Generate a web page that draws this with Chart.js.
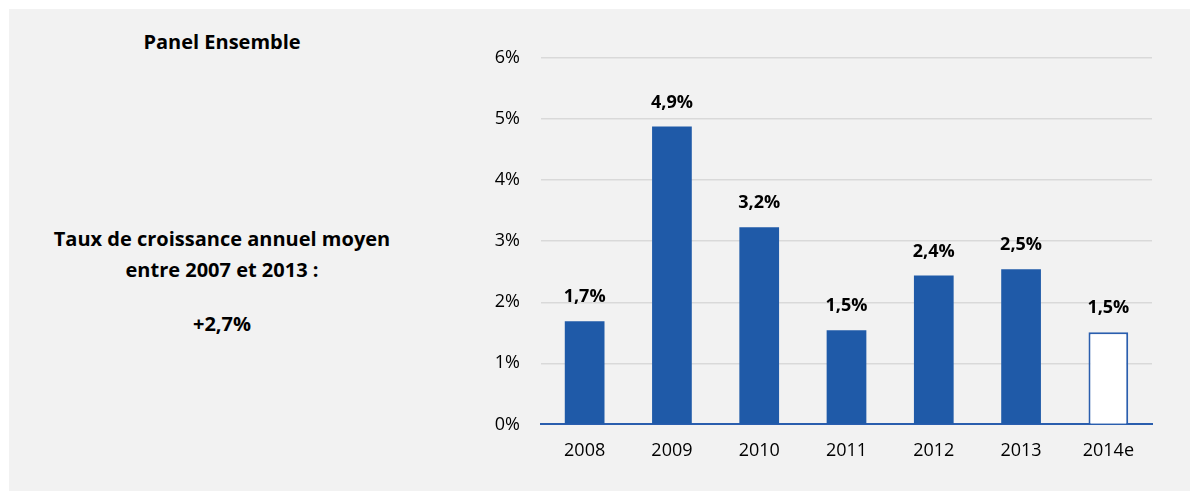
<!DOCTYPE html>
<html lang="fr">
<head>
<meta charset="utf-8">
<title>Panel Ensemble</title>
<script src="https://cdn.jsdelivr.net/npm/chart.js@4.4.1/dist/chart.umd.min.js"></script>
<style>
  html, body { margin: 0; padding: 0; background: #ffffff; }
  body { width: 1190px; height: 491px; position: relative; overflow: hidden; }
  #panel { position: absolute; left: 9px; top: 9px; width: 1181px; height: 482px; background: #f2f2f2; }
  #chart { position: absolute; left: 0; top: 0; }
  .side { position: absolute; left: 22px; width: 400px; text-align: center;
          font-family: "Open Sans", sans-serif; font-weight: bold; color: #000; font-size: 20px; line-height: 31px; }
</style>
</head>
<body>
<div id="panel"></div>
<div class="side" style="top:26px;">Panel Ensemble</div>
<div class="side" style="top:223px;">Taux de croissance annuel moyen<br>entre 2007 et 2013 :</div>
<div class="side" style="top:308px;">+2,7%</div>
<canvas id="chart" width="1190" height="491"></canvas>
<script>
// Annual growth, in percent
const years = ['2008', '2009', '2010', '2011', '2012', '2013', '2014e'];
const growth = [1.69, 4.88, 3.23, 1.54, 2.44, 2.54, 1.51];
const yTicks = [0, 1, 2, 3, 4, 5, 6];

const BLUE = '#1f5aa8';
const fmt = v => v.toFixed(1).replace('.', ',') + '%';

// last year is an estimate: hollow bar
const fills = years.map(y => y.endsWith('e') ? '#ffffff' : BLUE);
const borders = years.map(y => y.endsWith('e') ? 2 : 0);

const valueLabels = {
  id: 'valueLabels',
  afterDatasetsDraw(chart) {
    const ctx = chart.ctx;
    const meta = chart.getDatasetMeta(0);
    ctx.save();
    ctx.font = 'bold 18px "Open Sans", sans-serif';
    ctx.fillStyle = '#000';
    ctx.textAlign = 'center';
    ctx.textBaseline = 'middle';
    meta.data.forEach((bar, i) => {
      ctx.fillText(fmt(growth[i]), bar.x, bar.y - 24);
    });
    ctx.restore();
  }
};

new Chart(document.getElementById('chart'), {
  type: 'bar',
  data: {
    labels: years,
    datasets: [{
      data: growth,
      backgroundColor: fills,
      borderColor: '#2a5eae',
      borderWidth: borders,
      borderSkipped: 'bottom',
      barPercentage: 0.455,
      categoryPercentage: 1
    }]
  },
  options: {
    responsive: false,
    animation: false,
    layout: { padding: { left: 481, right: 38, top: 58, bottom: 21 } },
    plugins: { legend: { display: false }, tooltip: { enabled: false } },
    scales: {
      x: {
        grid: { display: false },
        border: { color: '#2a5eae', width: 2 },
        ticks: { color: '#000', font: { family: '"Open Sans", sans-serif', size: 18 }, padding: 8 }
      },
      y: {
        min: 0, max: 6,
        afterFit(scale) { scale.width = 60; },
        afterBuildTicks(scale) { scale.ticks = yTicks.map(v => ({ value: v })); },
        grid: { color: ctx => ctx.tick.value === 0 ? 'rgba(0,0,0,0)' : '#d9d9d9', lineWidth: 1.5, drawTicks: false },
        border: { display: false },
        ticks: { color: '#000', font: { family: '"Open Sans", sans-serif', size: 18 }, padding: 21,
                 callback: v => v + '%' }
      }
    }
  },
  plugins: [valueLabels]
});
</script>
</body>
</html>
